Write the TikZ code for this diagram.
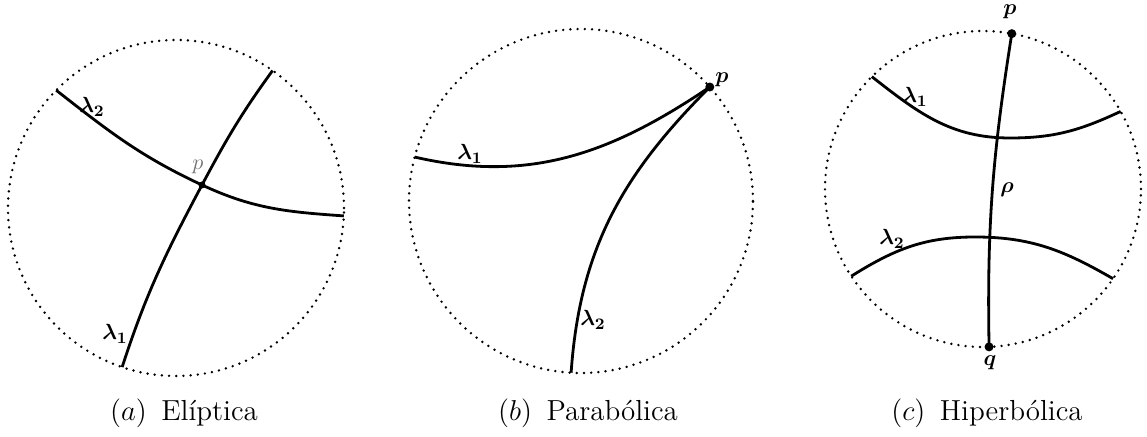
\documentclass[tikz,border=0pt]{standalone}
\usepackage{amsmath}
\begin{document}
\begin{tikzpicture}[x=0.5pt,y=0.5pt,
  rim/.style={line width=1.35pt, dash pattern=on 0pt off 3.6pt, line cap=round},
  geo/.style={line width=1.4pt},
  lab/.style={inner sep=0pt, font=\fontsize{11}{13}\selectfont},
  captext/.style={anchor=base, inner sep=0pt, font=\fontsize{14.5}{17}\selectfont}]
\useasboundingbox (0,0) rectangle (1147,-437);

% (a) Eliptica
\coordinate (ca) at (176,-208);
\draw[rim] (ca) circle[radius=168];
\coordinate (pa) at (202,-185);
\coordinate (a2s) at ([shift={(135.5:168)}]ca);
\coordinate (a2e) at ([shift={(-2.7:168)}]ca);
\coordinate (a1s) at ([shift={(-108.7:168)}]ca);
\coordinate (a1e) at ([shift={(54.9:168)}]ca);
\draw[geo] (a2s) to[out=-38,in=155] (pa) to[out=-25,in=176] (a2e);
\draw[geo] (a1s) to[out=72,in=-118] (pa) to[out=62,in=-126] (a1e);
\fill (pa) circle[radius=3.5];
\node[lab] (la2) at (92,-107) {$\boldsymbol{\lambda_2}$};
\node[lab] (la1) at (115,-334) {$\boldsymbol{\lambda_1}$};
\node[lab, text=black!55] (lpa) at (198,-167) {$p$};
\node[captext] (capa) at (184,-421) {$(a)$\enspace Elíptica};

% (b) Parabolica
\coordinate (cb) at (581,-201);
\draw[rim] (cb) circle[radius=172];
\coordinate (pb) at ([shift={(41.5:172)}]cb);
\coordinate (b1s) at ([shift={(165.2:172)}]cb);
\coordinate (b2s) at ([shift={(-93.3:172)}]cb);
\draw[geo] (b1s) to[out=-13,in=214] (pb);
\draw[geo] (b2s) to[out=86,in=-135] (pb);
\fill (pb) circle[radius=4.5];
\node[lab] (lb1) at (470,-154) {$\boldsymbol{\lambda_1}$};
\node[lab] (lb2) at (593,-320) {$\boldsymbol{\lambda_2}$};
\node[lab] (lpb) at (722,-80) {$\boldsymbol{p}$};
\node[captext] (capb) at (588,-421) {$(b)$\enspace Parabólica};

% (c) Hiperbolica
\coordinate (cc) at (983,-189);
\draw[rim] (cc) circle[radius=158];
\coordinate (pc) at ([shift={(79.5:158)}]cc);
\coordinate (qc) at ([shift={(-87.8:158)}]cc);
\coordinate (c1s) at ([shift={(134.7:158)}]cc);
\coordinate (c1e) at ([shift={(29.4:158)}]cc);
\coordinate (c2s) at ([shift={(-146.5:158)}]cc);
\coordinate (c2e) at ([shift={(-34.6:158)}]cc);
\coordinate (m1) at (1010,-138);
\coordinate (m2) at (975,-237);
\draw[geo] (pc) to[out=-99,in=91] (qc);
\draw[geo] (c1s) to[out=-38,in=180] (m1) to[out=0,in=-155] (c1e);
\draw[geo] (c2s) to[out=32,in=180] (m2) to[out=0,in=150] (c2e);
\fill (pc) circle[radius=4.5];
\fill (qc) circle[radius=4.5];
\node[lab] (lc1) at (915,-97) {$\boldsymbol{\lambda_1}$};
\node[lab] (lc2) at (892,-239) {$\boldsymbol{\lambda_2}$};
\node[lab] (lpc) at (1010,-12) {$\boldsymbol{p}$};
\node[lab] (lqc) at (990,-363) {$\boldsymbol{q}$};
\node[lab] (lrho) at (1007,-190) {$\boldsymbol{\rho}$};
\node[captext] (capc) at (987,-421) {$(c)$\enspace Hiperbólica};
\end{tikzpicture}
\end{document}
